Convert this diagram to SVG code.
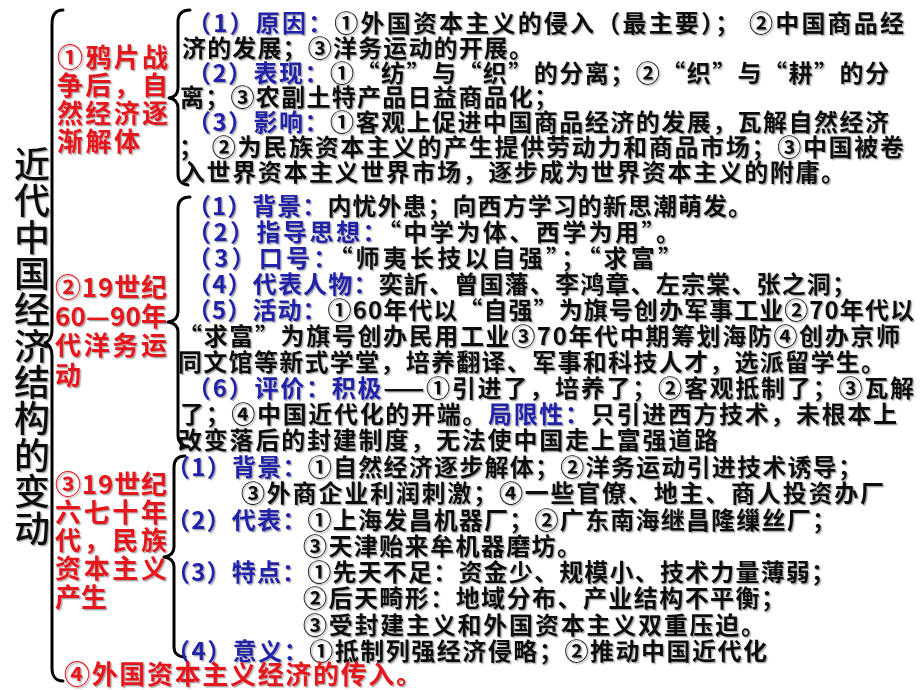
<svg xmlns="http://www.w3.org/2000/svg" width="920" height="690" viewBox="0 0 920 690">
<defs>
<filter id="sh" x="-5%" y="-20%" width="110%" height="140%">
<feDropShadow dx="1.4" dy="1.4" stdDeviation="0.7" flood-color="#000" flood-opacity="0.35"/>
</filter>
<style>
text{font-family:"Noto Sans CJK SC","Noto Sans CJK TC","Noto Sans",sans-serif;}
.t{font-size:24px;font-weight:bold;fill:#111;}
.b{fill:#2424a8;}
.r{font-size:26px;font-weight:bold;fill:#e5161c;}
.ti{font-size:36px;font-weight:500;fill:#111;}
.br{fill:none;stroke:#000;stroke-width:3;stroke-linecap:round;stroke-linejoin:round;}
</style>
</defs>
<rect width="920" height="690" fill="#fff"/>

<g id="connectors">
<path class="br" d="M63,10 C56,10 52,14 52,24 L52,330 C52,337 50,341 45,343 C50,345 52,349 52,356 L52,668 C52,676 56,681 63,681"/>
<path class="br" d="M190,10 C182,10 178,14 178,22 L178,88 C178,94 175,97 169,98 C175,99 178,102 178,108 L178,174 C178,181 181,184 188,185"/>
<path class="br" d="M190,197 C182,197 178,201 178,209 L178,312 C178,318 175,321 168,322 C175,323 178,326 178,332 L178,435 C178,442 181,446 189,447"/>
<path class="br" d="M185,456 C178,456 174,460 174,467 L174,547 C174,553 171,556 164,557 C171,558 174,561 174,567 L174,647 C174,653 178,657 185,657"/>
</g>

<g filter="url(#sh)">
<g id="title">
<text class="ti" text-anchor="middle">
<tspan x="32" y="178">近</tspan><tspan x="32" y="214">代</tspan><tspan x="32" y="251">中</tspan><tspan x="32" y="287">国</tspan><tspan x="32" y="323">经</tspan><tspan x="32" y="360">济</tspan><tspan x="32" y="396">结</tspan><tspan x="32" y="432">构</tspan><tspan x="32" y="469">的</tspan><tspan x="32" y="505">变</tspan><tspan x="32" y="542">动</tspan>
</text>
</g>

<g id="sec1-label">
<text class="r" x="57" y="67" textLength="111">①鸦片战</text>
<text class="r" x="57" y="95" textLength="111">争后，自</text>
<text class="r" x="57" y="123" textLength="111">然经济逐</text>
<text class="r" x="57" y="151" textLength="83">渐解体</text>
</g>

<g id="sec1-content">
<text class="t" x="187" y="32" textLength="717"><tspan class="b">（1）原因：</tspan>①外国资本主义的侵入（最主要）； ②中国商品经</text>
<text class="t" x="182" y="57" textLength="351">济的发展；③洋务运动的开展。</text>
<text class="t" x="187" y="82" textLength="702"><tspan class="b">（2）表现：</tspan>①“纺”与“织”的分离；②“织”与“耕”的分</text>
<text class="t" x="180" y="106" textLength="378">离；③农副土特产品日益商品化；</text>
<text class="t" x="187" y="131" textLength="702"><tspan class="b">（3）影响：</tspan>①客观上促进中国商品经济的发展，瓦解自然经济</text>
<text class="t" x="179" y="156" textLength="725">； ②为民族资本主义的产生提供劳动力和商品市场；③中国被卷</text>
<text class="t" x="181" y="181" textLength="664">入世界资本主义世界市场，逐步成为世界资本主义的附庸。</text>
</g>

<g id="sec2-label">
<text class="r" x="55" y="297" textLength="112">②19世纪</text>
<text class="r" x="55" y="326" textLength="112">60—90年</text>
<text class="r" x="55" y="355" textLength="112">代洋务运</text>
<text class="r" x="55" y="385">动</text>
</g>

<g id="sec2-content">
<text class="t" x="187" y="215" textLength="565"><tspan class="b">（1）背景：</tspan>内忧外患；向西方学习的新思潮萌发。</text>
<text class="t" x="187" y="241" textLength="493"><tspan class="b">（2）指导思想：</tspan>“中学为体、西学为用”。</text>
<text class="t" x="187" y="267" textLength="495"><tspan class="b">（3）口号：</tspan>“师夷长技以自强”；“求富”</text>
<text class="t" x="187" y="293" textLength="669"><tspan class="b">（4）代表人物：</tspan>奕訢、曾国藩、李鸿章、左宗棠、张之洞；</text>
<text class="t" x="187" y="319" textLength="727"><tspan class="b">（5）活动：</tspan>①60年代以“自强”为旗号创办军事工业②70年代以</text>
<text class="t" x="178" y="345" textLength="722">“求富”为旗号创办民用工业③70年代中期筹划海防④创办京师</text>
<text class="t" x="178" y="371" textLength="707">同文馆等新式学堂，培养翻译、军事和科技人才，选派留学生。</text>
<text class="t" x="187" y="397" textLength="727"><tspan class="b">（6）评价：积极</tspan>——①引进了，培养了；②客观抵制了；③瓦解</text>
<text class="t" x="180" y="423" textLength="717">了；④中国近代化的开端。<tspan class="b">局限性：</tspan>只引进西方技术，未根本上</text>
<text class="t" x="178" y="449" textLength="540">改变落后的封建制度，无法使中国走上富强道路</text>
</g>

<g id="sec3-label">
<text class="r" x="55" y="494" textLength="112">③19世纪</text>
<text class="r" x="55" y="522" textLength="112">六七十年</text>
<text class="r" x="55" y="550" textLength="112">代，民族</text>
<text class="r" x="55" y="578" textLength="112">资本主义</text>
<text class="r" x="55" y="607">产生</text>
</g>

<g id="sec3-content">
<text class="t" x="166" y="476" textLength="696"><tspan class="b">（1）背景：</tspan>①自然经济逐步解体；②洋务运动引进技术诱导；</text>
<text class="t" x="241" y="502" textLength="643">③外商企业利润刺激；④一些官僚、地主、商人投资办厂</text>
<text class="t" x="166" y="529" textLength="670"><tspan class="b">（2）代表：</tspan>①上海发昌机器厂；②广东南海继昌隆缫丝厂；</text>
<text class="t" x="303" y="555" textLength="278">③天津贻来牟机器磨坊。</text>
<text class="t" x="166" y="581" textLength="669"><tspan class="b">（3）特点：</tspan>①先天不足：资金少、规模小、技术力量薄弱；</text>
<text class="t" x="303" y="607" textLength="482">②后天畸形：地域分布、产业结构不平衡；</text>
<text class="t" x="303" y="634" textLength="462">③受封建主义和外国资本主义双重压迫。</text>
<text class="t" x="166" y="660" textLength="601"><tspan class="b">（4）意义：</tspan>①抵制列强经济侵略；②推动中国近代化</text>
</g>

<g id="sec4-label">
<text class="r" x="64" y="684" textLength="358">④外国资本主义经济的传入。</text>
</g>
</g>
</svg>
